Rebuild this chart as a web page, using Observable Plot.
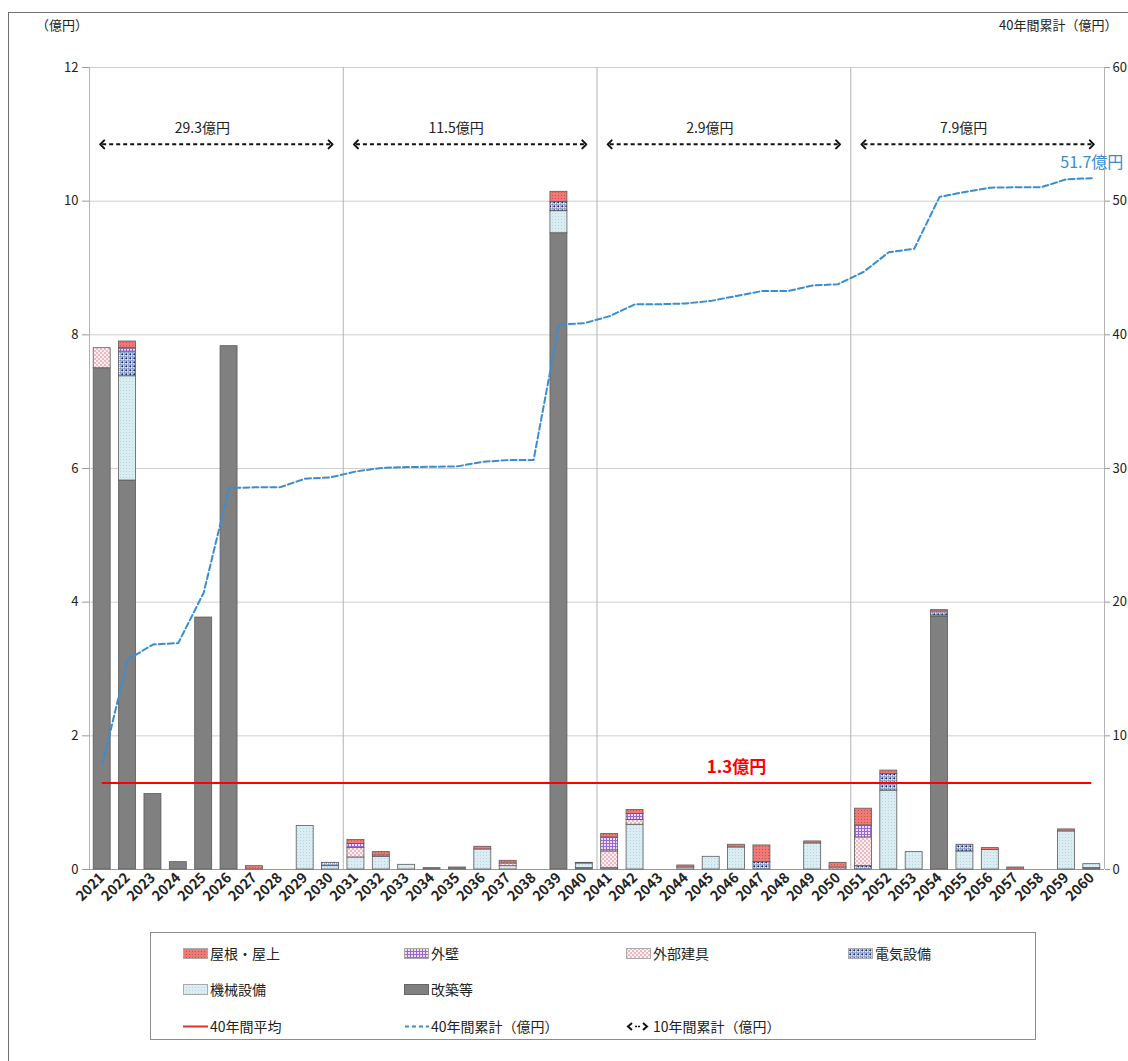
<!DOCTYPE html>
<html lang="ja">
<head>
<meta charset="utf-8">
<script src="https://cdn.jsdelivr.net/npm/d3@7"></script>
<script src="https://cdn.jsdelivr.net/npm/@observablehq/plot@0.6"></script>
<style>
  html, body { margin: 0; padding: 0; background: #fff; overflow: hidden; }
  #page { position: relative; width: 1128px; height: 1061px; overflow: hidden;
          font-family: "Noto Sans CJK JP", "Noto Sans", sans-serif; color: #222; }
  #frame { position: absolute; left: 8px; top: 12px; width: 1200px; height: 1100px;
           border: 1px solid #707070; box-sizing: border-box; }
  #chart { position: absolute; left: 0; top: 0; }
  .note { position: absolute; font-size: 13px; line-height: 1; white-space: nowrap; }
  #legend { position: absolute; left: 150px; top: 932px; width: 886px; height: 108px;
            border: 1px solid #8c8c8c; box-sizing: border-box; background: #fff; }
  .item { position: absolute; display: flex; align-items: center; font-size: 14px;
          line-height: 1; white-space: nowrap; transform: translateY(-50%); }
  .item svg { margin-right: 2px; }
</style>
</head>
<body>
<svg width="0" height="0" style="position:absolute">
  <defs>
    <pattern id="pat-yane" width="3" height="3" patternUnits="userSpaceOnUse">
      <rect width="3" height="3" fill="#ee7a75"/>
      <rect width="1" height="1" fill="#c9504d"/>
    </pattern>
    <pattern id="pat-gaiheki" width="3" height="3" patternUnits="userSpaceOnUse">
      <rect width="3" height="3" fill="#eadff7"/>
      <path d="M0,0.5H3M0.5,0V3" stroke="#9a68d4" stroke-width="1"/>
    </pattern>
    <pattern id="pat-tategu" width="4" height="4" patternUnits="userSpaceOnUse">
      <rect width="4" height="4" fill="#fdf0f2"/>
      <circle cx="1" cy="1" r="0.9" fill="#e8a0ab"/>
      <circle cx="3" cy="3" r="0.9" fill="#e8a0ab"/>
    </pattern>
    <pattern id="pat-denki" width="4" height="4" patternUnits="userSpaceOnUse">
      <rect width="4" height="4" fill="#f3f6fc"/>
      <path d="M0,0.5H4M0.5,0V4" stroke="#6d80b8" stroke-width="0.6"/>
      <circle cx="2.3" cy="2.3" r="1.1" fill="#142a66"/>
    </pattern>
    <pattern id="pat-kikai" width="3" height="3" patternUnits="userSpaceOnUse">
      <rect width="3" height="3" fill="#d9edf3"/>
      <rect width="1" height="1" fill="#b9d3dc"/>
    </pattern>
  </defs>
</svg>
<div id="page">
  <div id="frame"></div>
  <div id="chart"></div>
  <div class="note" style="left:36px;top:18px">（億円）</div>
  <div class="note" style="left:999px;top:18px">40年間累計（億円）</div>
  <div id="legend"></div>
</div>
<script>
// Fiscal years covered by the 40-year plan
const years = d3.range(2021, 2061);

// Cost categories, listed bottom → top in each stacked bar
const parts = ["改築等", "機械設備", "電気設備", "外部建具", "外壁", "屋根・屋上"];

// Annual costs per category (億円), 2021 … 2060
const kaichiku = [7.5, 5.82, 1.13, 0.11, 3.77, 7.83, 0, 0, 0, 0,
                  0, 0, 0, 0.02, 0.03, 0, 0, 0, 9.52, 0.02,
                  0, 0, 0, 0, 0, 0, 0, 0, 0, 0,
                  0, 0, 0, 3.78, 0, 0, 0, 0, 0, 0.02];
const kikai    = [0, 1.56, 0, 0, 0, 0, 0, 0, 0.65, 0.05,
                  0.18, 0.19, 0.07, 0, 0, 0.30, 0.05, 0, 0.33, 0.07,
                  0, 0.67, 0, 0.03, 0.19, 0.33, 0, 0, 0.39, 0,
                  0, 1.18, 0.26, 0.02, 0.27, 0.29, 0, 0, 0.57, 0.06];
const denki    = [0, 0.37, 0, 0, 0, 0, 0, 0, 0, 0.05,
                  0, 0, 0, 0, 0, 0, 0, 0, 0.14, 0,
                  0.02, 0, 0, 0, 0, 0, 0.11, 0, 0, 0,
                  0.05, 0.25, 0, 0.06, 0.10, 0, 0, 0, 0, 0];
const tategu   = [0.3, 0, 0, 0, 0, 0, 0, 0, 0, 0,
                  0.14, 0.02, 0, 0, 0, 0, 0.04, 0, 0, 0,
                  0.25, 0.07, 0, 0, 0, 0, 0, 0, 0, 0.03,
                  0.43, 0, 0, 0, 0, 0, 0, 0, 0, 0];
const gaiheki  = [0, 0.05, 0, 0, 0, 0, 0, 0, 0, 0,
                  0.06, 0, 0, 0, 0, 0, 0, 0, 0, 0,
                  0.21, 0.09, 0, 0, 0, 0, 0, 0, 0, 0,
                  0.18, 0, 0, 0, 0, 0, 0, 0, 0, 0];
const yane     = [0, 0.1, 0, 0, 0, 0, 0.05, 0, 0, 0,
                  0.06, 0.05, 0, 0, 0, 0.04, 0.04, 0, 0.15, 0.01,
                  0.05, 0.06, 0, 0.03, 0, 0.04, 0.25, 0, 0.03, 0.07,
                  0.25, 0.05, 0, 0.02, 0, 0.03, 0.03, 0, 0.03, 0];

// Axis ticks: left axis in 億円 per year, right axis shows the 40-year running total
const leftTicks = [0, 2, 4, 6, 8, 10, 12];
const rightMax = 60;
const leftMax = 12;
const ratio = rightMax / leftMax;

// Height (left-axis units) of the 10-year total arrows, and year under the average label
const arrowLevel = 10.85;
const avgLabelYear = 2046;

const series = {"改築等": kaichiku, "機械設備": kikai, "電気設備": denki,
                "外部建具": tategu, "外壁": gaiheki, "屋根・屋上": yane};
const patternId = {"改築等": null, "機械設備": "pat-kikai", "電気設備": "pat-denki",
                   "外部建具": "pat-tategu", "外壁": "pat-gaiheki", "屋根・屋上": "pat-yane"};
const fillOf = p => patternId[p] ? `url(#${patternId[p]})` : "#808080";

const rows = parts.flatMap(part => years.map((year, i) => ({year, part, value: series[part][i]})))
                  .filter(d => d.value > 0);

const totals = years.map((_, i) => d3.sum(parts, p => series[p][i]));
const cumulative = Array.from(d3.cumsum(totals));
const cumRows = years.map((year, i) => ({year, cum: cumulative[i]}));
const avg = d3.sum(totals) / years.length;

const decades = d3.range(0, years.length, 10).map(k => ({
  start: years[k], end: years[k + 9], total: d3.sum(totals.slice(k, k + 10))
}));
const separators = [years[0] - 0.5, ...decades.map(d => d.end + 0.5)];

const FONT = '"Noto Sans CJK JP", "Noto Sans", sans-serif';

const chart = Plot.plot({
  width: 1128, height: 940,
  marginLeft: 89, marginRight: 24, marginTop: 67, marginBottom: 71,
  style: {fontFamily: FONT, fontSize: "13px", color: "#222", background: "transparent", overflow: "visible"},
  x: {type: "linear", domain: [years[0] - 0.5, years[years.length - 1] + 0.5], label: null},
  y: {domain: [0, leftMax], label: null},
  color: {type: "ordinal", domain: parts, range: parts.map(fillOf)},
  marks: [
    Plot.gridY(leftTicks.filter(d => d > 0), {stroke: "#cfcfcf", strokeOpacity: 1}),
    Plot.ruleX(separators, {stroke: "#b4b4b4", strokeWidth: 1}),
    Plot.ruleY([0], {stroke: "#9a9a9a"}),
    Plot.axisY({anchor: "left", ticks: leftTicks, tickSize: 7, tickPadding: 4, stroke: "#9a9a9a", fill: "#222", fontSize: 13, label: null}),
    Plot.axisY({anchor: "right", ticks: leftTicks, tickFormat: d => d * ratio, tickSize: 5, tickPadding: 3, stroke: "#9a9a9a", fill: "#222", fontSize: 13, label: null}),
    Plot.axisX({ticks: years, tickFormat: d => String(d), tickRotate: -45, tickSize: 0, tickPadding: 6, fill: "#222", fontSize: 14, fontWeight: 600, label: null}),
    Plot.rect(rows, Plot.stackY({
      x1: d => d.year - 0.5, x2: d => d.year + 0.5, y: "value", fill: "part",
      stroke: "#5a5a5a", strokeWidth: 0.8, insetLeft: 4.2, insetRight: 4.2
    })),
    Plot.ruleY([avg], {x1: () => years[0], x2: () => years[years.length - 1], stroke: "#ff0000", strokeWidth: 2}),
    Plot.text([avg], {x: () => avgLabelYear, y: d => d, text: d => `${d.toFixed(1)}億円`, dy: -16,
                      fill: "#ff0000", fontSize: 17, fontWeight: "bold"}),
    Plot.line(cumRows, {x: "year", y: d => d.cum / ratio, stroke: "#3a8dcf", strokeWidth: 2, strokeDasharray: "6,3"}),
    Plot.text([cumRows[cumRows.length - 1]], {x: "year", y: d => d.cum / ratio, text: d => `${d.cum.toFixed(1)}億円`,
                      dy: -15, fill: "#3a8dcf", fontSize: 16}),
    Plot.link(decades, {x1: "start", x2: "end", y1: () => arrowLevel, y2: () => arrowLevel,
                        stroke: "#111", strokeWidth: 2, markerStart: "arrow-reverse", markerEnd: "arrow"}),
    Plot.text(decades, {x: d => (d.start + d.end) / 2, y: () => arrowLevel, text: d => `${d.total.toFixed(1)}億円`,
                        dy: -16, dx: -14, fontSize: 14, fill: "#222"})
  ]
});

// Dash the 10-year arrows' shafts only, keeping their arrowheads solid
d3.select(chart).selectAll('g[aria-label="link"] > path').attr("stroke-dasharray", "4,3");

document.getElementById("chart").appendChild(chart);

// Legend
const legend = d3.select("#legend");
const colX = [32, 253, 475, 697];
const rowY = [20, 56, 93];
const legendParts = parts.slice().reverse();
legendParts.forEach((p, i) => {
  const item = legend.append("div").attr("class", "item")
    .style("left", colX[i % 4] + "px").style("top", rowY[Math.floor(i / 4)] + "px");
  const s = item.append("svg").attr("width", 25).attr("height", 11);
  s.append("rect").attr("x", 0.5).attr("y", 0.5).attr("width", 24).attr("height", 10)
    .attr("fill", fillOf(p)).attr("stroke", p === "改築等" ? "#666" : "#aaa");
  item.append("span").text(p);
});
const lineItems = [
  {label: "40年間平均", draw: s => s.append("line").attr("x1", 0).attr("x2", 25).attr("y1", 5.5).attr("y2", 5.5)
      .attr("stroke", "#e0302a").attr("stroke-width", 2)},
  {label: "40年間累計（億円）", draw: s => s.append("line").attr("x1", 1).attr("x2", 25).attr("y1", 5.5).attr("y2", 5.5)
      .attr("stroke", "#3a8dcf").attr("stroke-width", 2).attr("stroke-dasharray", "4,3")},
  {label: "10年間累計（億円）", draw: s => {
      s.append("path").attr("d", "M6,2L2,5.5L6,9M17,2L21,5.5L17,9").attr("fill", "none")
        .attr("stroke", "#111").attr("stroke-width", 2);
      s.append("line").attr("x1", 9).attr("x2", 14).attr("y1", 5.5).attr("y2", 5.5)
        .attr("stroke", "#111").attr("stroke-width", 1.5).attr("stroke-dasharray", "2,1");
  }}
];
lineItems.forEach((d, i) => {
  const item = legend.append("div").attr("class", "item")
    .style("left", colX[i] + "px").style("top", rowY[2] + "px");
  const s = item.append("svg").attr("width", 25).attr("height", 11);
  d.draw(s);
  item.append("span").text(d.label);
});
</script>
</body>
</html>
